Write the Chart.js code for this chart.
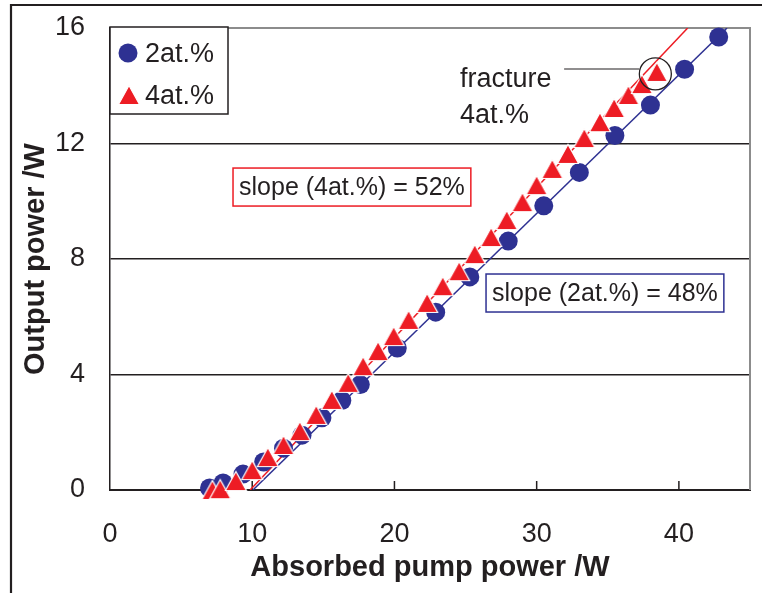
<!DOCTYPE html>
<html lang="en">
<head>
<meta charset="UTF-8">
<title>Output power vs absorbed pump power</title>
<script src="https://cdn.jsdelivr.net/npm/chart.js"></script>
<style>
  * { margin: 0; padding: 0; box-sizing: border-box; }
  body { background: #fff; }
  .wrap { position: relative; width: 762px; height: 593px; }
</style>
</head>
<body>
<div class="wrap"><canvas id="laserChart"></canvas></div>
<script>
// 2at.% crystal: absorbed pump power (W) -> output power (W)
const pump2 = [7.0, 7.95, 9.35, 10.8, 12.2, 13.5, 14.9, 16.3, 17.6, 20.2, 22.9, 25.3, 28.0, 30.5, 33.0, 35.5, 38.0, 40.4, 42.8];
const out2  = [0.07, 0.24, 0.55, 0.97, 1.45, 1.9, 2.5, 3.1, 3.65, 4.92, 6.16, 7.38, 8.62, 9.84, 11.0, 12.28, 13.33, 14.57, 15.69];

// 4at.% crystal (last point = fracture)
const pump4 = [7.2, 7.75, 8.85, 10.0, 11.1, 12.2, 13.35, 14.5, 15.6, 16.75, 17.8, 18.85, 19.95, 21.0, 22.3, 23.4, 24.55, 25.65, 26.8, 27.9, 29.0, 30.0, 31.1, 32.2, 33.35, 34.45, 35.45, 36.45, 37.4, 38.45];
const out4  = [0.0, 0.03, 0.31, 0.69, 1.14, 1.56, 2.04, 2.6, 3.12, 3.71, 4.29, 4.81, 5.33, 5.89, 6.48, 7.06, 7.58, 8.17, 8.76, 9.35, 9.97, 10.56, 11.12, 11.64, 12.19, 12.74, 13.23, 13.68, 14.06, 14.48];

// linear fits: slope efficiency and threshold (W)
const slope2 = 0.48, threshold2 = 10.05;
const slope4 = 0.52, threshold4 = 9.85;

// axes
const xTicks = [0, 10, 20, 30, 40];
const yTicks = [0, 4, 8, 12, 16];
const xMax = 45;

const BLUE = '#2e3192';
const RED = '#ed1c24';
const INK = '#231f20';
const FONT = "'Liberation Sans', Arial, Helvetica, sans-serif";

const pts = (xs, ys) => xs.map((x, i) => ({ x: x, y: ys[i] }));
// fit line from y = 0 up to the top of the plot
const fitLine = (slope, thr) => [{ x: thr, y: 0 }, { x: thr + yTicks[yTicks.length - 1] / slope, y: yTicks[yTicks.length - 1] }];

// triangle marker centred on its bounding box, thin white outline
function makeTriangle(w, h, fill) {
  const pad = 1.5;
  const c = document.createElement('canvas');
  c.width = Math.round(w + pad * 2);
  c.height = Math.round(h + pad * 2);
  const g = c.getContext('2d');
  g.beginPath();
  g.moveTo(pad, pad + h);
  g.lineTo(pad + w / 2, pad);
  g.lineTo(pad + w, pad + h);
  g.closePath();
  g.fillStyle = fill;
  g.fill();
  g.lineWidth = 1.2;
  g.strokeStyle = '#fff';
  g.stroke();
  return c;
}
const triangle = makeTriangle(21, 19, RED);

// frame, inward ticks, legend and annotations
const decorations = {
  id: 'decorations',
  beforeDraw(chart) {
    const ctx = chart.ctx;
    ctx.save();
    ctx.fillStyle = '#fff';
    ctx.fillRect(0, 0, chart.width, chart.height);
    // outer frame (top and left edges)
    ctx.strokeStyle = INK;
    ctx.lineWidth = 2.2;
    ctx.beginPath();
    ctx.moveTo(11, chart.height);
    ctx.lineTo(11, 5);
    ctx.lineTo(chart.width, 5);
    ctx.stroke();
    ctx.restore();
  },
  beforeDatasetsDraw(chart) {
    const ctx = chart.ctx, a = chart.chartArea, sx = chart.scales.x;
    ctx.save();
    // grey plot border top/right
    ctx.strokeStyle = '#8c8c8c';
    ctx.lineWidth = 2;
    ctx.beginPath();
    ctx.moveTo(a.left, a.top);
    ctx.lineTo(a.right, a.top);
    ctx.lineTo(a.right, a.bottom);
    ctx.stroke();
    // tick marks pointing into the plot
    ctx.strokeStyle = INK;
    ctx.lineWidth = 1.5;
    ctx.beginPath();
    xTicks.slice(1).forEach(v => {
      const x = sx.getPixelForValue(v);
      ctx.moveTo(x, a.bottom);
      ctx.lineTo(x, a.bottom - 9);
    });
    ctx.stroke();
    ctx.restore();
  },
  afterDatasetsDraw(chart) {
    const ctx = chart.ctx, sx = chart.scales.x, sy = chart.scales.y;
    const X = v => sx.getPixelForValue(v), Y = v => sy.getPixelForValue(v);
    ctx.save();

    // legend box
    ctx.fillStyle = '#fff';
    ctx.fillRect(110, 27, 118, 87);
    ctx.strokeStyle = INK;
    ctx.lineWidth = 1.5;
    ctx.strokeRect(110, 27, 118, 87);
    ctx.fillStyle = BLUE;
    ctx.beginPath();
    ctx.arc(128, 53, 9.5, 0, Math.PI * 2);
    ctx.fill();
    ctx.drawImage(triangle, 129 - triangle.width / 2, 95 - triangle.height / 2);
    ctx.fillStyle = INK;
    ctx.font = '27px ' + FONT;
    ctx.textBaseline = 'alphabetic';
    ctx.fillText('2at.%', 145, 62);
    ctx.fillText('4at.%', 145, 104);

    // slope labels
    ctx.font = '25px ' + FONT;
    const label = (text, x, y, color) => {
      const w = ctx.measureText(text).width;
      ctx.fillStyle = '#fff';
      ctx.fillRect(X(x), Y(y), w + 12, 38);
      ctx.strokeStyle = color;
      ctx.lineWidth = 1.5;
      ctx.strokeRect(X(x), Y(y), w + 12, 38);
      ctx.fillStyle = INK;
      ctx.fillText(text, X(x) + 6, Y(y) + 27);
    };
    label('slope (4at.%) = 52%', 8.65, 11.15, RED);
    label('slope (2at.%) = 48%', 26.44, 7.48, BLUE);

    // fracture marker on the last 4at.% point
    const fx = X(pump4[pump4.length - 1]) - 1.5, fy = Y(out4[out4.length - 1]) + 2;
    ctx.strokeStyle = INK;
    ctx.lineWidth = 1.3;
    ctx.beginPath();
    ctx.arc(fx, fy, 16, 0, Math.PI * 2);
    ctx.stroke();
    ctx.lineWidth = 1.2;
    ctx.beginPath();
    ctx.moveTo(X(31.93), Y(14.58));
    ctx.lineTo(fx - 16, Y(14.58));
    ctx.stroke();
    ctx.font = '27px ' + FONT;
    ctx.fillText('fracture', X(24.61), Y(13.96));
    ctx.fillText('4at.%', X(24.61), Y(12.71));
    ctx.restore();
  }
};

new Chart(document.getElementById('laserChart'), {
  type: 'scatter',
  data: {
    datasets: [
      {
        label: '4at.%',
        data: pts(pump4, out4),
        pointStyle: triangle,
        pointRadius: 10,
        clip: false,
        order: 0
      },
      {
        label: '2at.%',
        data: pts(pump2, out2),
        pointStyle: 'circle',
        pointRadius: 9.5,
        pointBorderWidth: 0,
        backgroundColor: BLUE,
        clip: false,
        order: 1
      },
      {
        label: 'fit 4at.%',
        type: 'line',
        data: fitLine(slope4, threshold4),
        borderColor: RED,
        borderWidth: 1.5,
        pointRadius: 0,
        order: 2
      },
      {
        label: 'fit 2at.%',
        type: 'line',
        data: fitLine(slope2, threshold2),
        borderColor: BLUE,
        borderWidth: 1.5,
        pointRadius: 0,
        order: 3
      }
    ]
  },
  options: {
    responsive: true,
    maintainAspectRatio: false,
    animation: false,
    events: [],
    layout: { padding: { left: 0, top: 28, right: 12, bottom: 0 } },
    plugins: { legend: { display: false }, tooltip: { enabled: false } },
    scales: {
      x: {
        type: 'linear',
        min: 0,
        max: xMax,
        afterFit: s => { s.height = 103; s.paddingLeft = 0; s.paddingRight = 0; },
        afterBuildTicks: s => { s.ticks = xTicks.map(v => ({ value: v })); },
        grid: { display: false },
        border: { color: INK, width: 2 },
        ticks: { color: INK, padding: 20, font: { family: FONT, size: 27 } },
        title: {
          display: true,
          text: 'Absorbed pump power /W',
          color: INK,
          padding: { top: 0, bottom: 8 },
          font: { family: FONT, size: 29, weight: 'bold' }
        }
      },
      y: {
        type: 'linear',
        min: 0,
        max: 16,
        afterFit: s => { s.width = 110; s.paddingTop = 0; s.paddingBottom = 0; },
        afterBuildTicks: s => { s.ticks = yTicks.map(v => ({ value: v })); },
        grid: {
          drawTicks: false,
          color: ctx => ctx.tick && ctx.tick.value === 16 ? 'rgba(0,0,0,0)' : INK,
          lineWidth: 1.5
        },
        border: { color: INK, width: 1.5 },
        ticks: { color: INK, padding: 25, font: { family: FONT, size: 27 } },
        title: {
          display: true,
          text: 'Output power /W',
          color: INK,
          padding: { top: 19, bottom: 0 },
          font: { family: FONT, size: 29, weight: 'bold' }
        }
      }
    }
  },
  plugins: [decorations]
});
</script>
</body>
</html>
